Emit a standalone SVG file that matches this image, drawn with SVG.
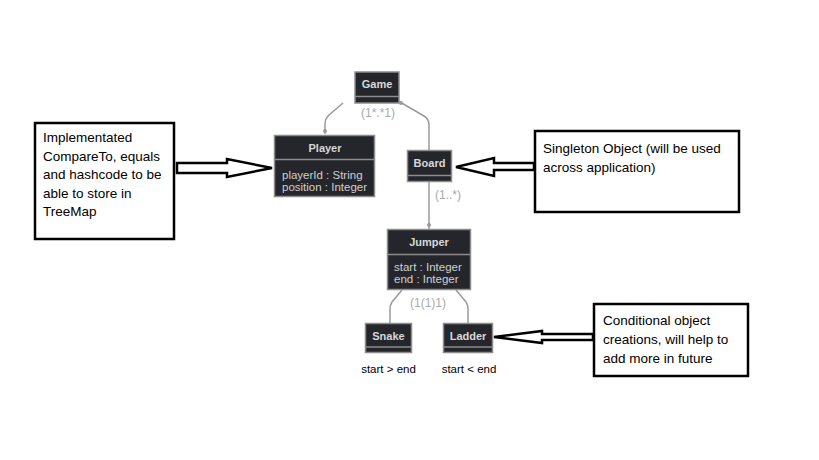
<svg xmlns="http://www.w3.org/2000/svg" width="819" height="460" viewBox="0 0 819 460">
<style>
.box{fill:#25262b;stroke:#8c8c8c;stroke-width:1.5}
.div{stroke:#8c8c8c;stroke-width:1.5}
.title{font-family:"Liberation Sans",Arial,sans-serif;font-size:11px;font-weight:bold;fill:#d8d8d8;text-anchor:middle}
.attr{font-family:"Liberation Sans",Arial,sans-serif;font-size:11.5px;fill:#cfcfcf}
.mult{font-family:"Liberation Sans",Arial,sans-serif;font-size:12px;fill:#aaaaaa}
.conn{fill:none;stroke:#9a9a9a;stroke-width:1.5}
.dot{fill:#9a9a9a}
.note{fill:#fff;stroke:#000;stroke-width:2.5}
.ntext{font-family:"Liberation Sans",Arial,sans-serif;font-size:13.5px;fill:#000}
.cond{font-family:"Liberation Sans",Arial,sans-serif;font-size:11.5px;fill:#000;text-anchor:middle}
.harrow{fill:#fff;stroke:#000;stroke-width:2.5;stroke-linejoin:miter}
</style>
<rect width="819" height="460" fill="#fff"/>
<g id="connectors">
<path class="conn" d="M343 103 L329 115 Q325 119 325 124 L325 134"/>
<circle class="dot" cx="325" cy="131" r="2"/>
<path class="conn" d="M400 102 L424 116 Q429 119 429 125 L429 150"/>
<circle class="dot" cx="401" cy="103" r="2"/>
<path class="conn" d="M429 182 L429 229"/>
<circle class="dot" cx="429" cy="225" r="2"/>
<path class="conn" d="M402 290 L392 302 Q390 305 390 309 L390 323"/>
<path class="conn" d="M456 290 L466 302 Q468 305 468 309 L468 323"/>
<text class="mult" x="361" y="117">(1*.*1)</text>
<text class="mult" x="435" y="199">(1..*)</text>
<text class="mult" x="410" y="307">(1(1)1)</text>
</g>
<g id="game">
<rect class="box" x="355" y="72" width="44" height="31"/>
<line class="div" x1="355" y1="96.5" x2="399" y2="96.5"/>
<text class="title" x="377" y="88">Game</text>
</g>
<g id="player">
<rect class="box" x="274.5" y="135.5" width="100" height="61"/>
<line class="div" x1="274.5" y1="159.5" x2="374.5" y2="159.5"/>
<text class="title" x="325" y="152">Player</text>
<text class="attr" x="282" y="179">playerId : String</text>
<text class="attr" x="282" y="191">position : Integer</text>
</g>
<g id="board">
<rect class="box" x="407.5" y="150.5" width="44" height="31"/>
<line class="div" x1="407.5" y1="175.5" x2="451.5" y2="175.5"/>
<text class="title" x="429.5" y="167">Board</text>
</g>
<g id="jumper">
<rect class="box" x="387.5" y="229.5" width="83" height="60"/>
<line class="div" x1="387.5" y1="254.5" x2="470.5" y2="254.5"/>
<text class="title" x="429" y="246">Jumper</text>
<text class="attr" x="394" y="271">start : Integer</text>
<text class="attr" x="394" y="283">end : Integer</text>
</g>
<g id="snake">
<rect class="box" x="365.5" y="323.5" width="46" height="29"/>
<line class="div" x1="365.5" y1="347" x2="411.5" y2="347"/>
<text class="title" x="388.5" y="340">Snake</text>
<text class="cond" x="388.5" y="373">start &gt; end</text>
</g>
<g id="ladder">
<rect class="box" x="443.5" y="323.5" width="49" height="29"/>
<line class="div" x1="443.5" y1="347" x2="492.5" y2="347"/>
<text class="title" x="468" y="340">Ladder</text>
<text class="cond" x="469" y="373">start &lt; end</text>
</g>
<g id="note-player">
<rect class="note" x="35" y="123" width="139" height="116"/>
<text class="ntext" x="43" y="142">Implementated</text>
<text class="ntext" x="43" y="160.5">CompareTo, equals</text>
<text class="ntext" x="43" y="179">and hashcode to be</text>
<text class="ntext" x="43" y="197.5">able to store in</text>
<text class="ntext" x="43" y="216">TreeMap</text>
<polygon class="harrow" points="177,163 227,163 227,159 272,168 227,177 227,173 177,173"/>
</g>
<g id="note-board">
<rect class="note" x="535" y="131" width="204" height="81"/>
<text class="ntext" x="543" y="153">Singleton Object (will be used</text>
<text class="ntext" x="543" y="171.5">across application)</text>
<polygon class="harrow" points="534,163 494,163 494,158 456,167 494,176 494,170 534,170"/>
</g>
<g id="note-ladder">
<rect class="note" x="594" y="304" width="154" height="72"/>
<text class="ntext" x="603" y="325">Conditional object</text>
<text class="ntext" x="603" y="344">creations, will help to</text>
<text class="ntext" x="603" y="363">add more in future</text>
<polygon class="harrow" points="593,334 542,334 542,331 494,337 542,343 542,340 593,340"/>
</g>
</svg>
